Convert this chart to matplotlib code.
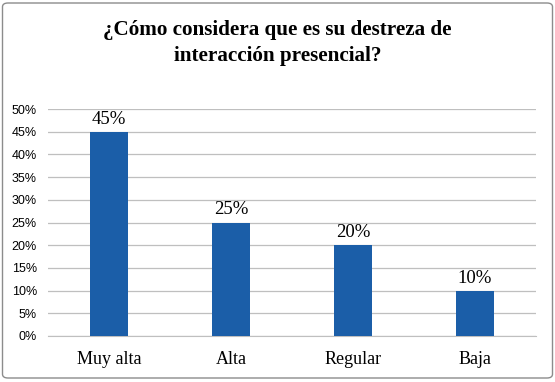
import matplotlib.pyplot as plt
from matplotlib.patches import FancyBboxPatch
from matplotlib.ticker import PercentFormatter

categories = ['Muy alta', 'Alta', 'Regular', 'Baja']
values = [45, 25, 20, 10]
yticks = [0, 5, 10, 15, 20, 25, 30, 35, 40, 45, 50]

serif = 'Liberation Serif'
sans = 'Liberation Sans'
bar_color = '#1B5EA8'

fig = plt.figure(figsize=(5.55, 3.82), dpi=100)
ax = fig.add_axes([48 / 555, 46 / 382, 488 / 555, 227 / 382])

x = range(len(categories))
bars = ax.bar(x, values, width=0.31, color=bar_color, zorder=3)

for b, v in zip(bars, values):
    ax.text(b.get_x() + b.get_width() / 2, v + 0.9, f'{v}%', ha='center', va='bottom',
            fontsize=13.5, family=serif)

ax.set_xlim(-0.5, len(categories) - 0.5)
ax.set_ylim(0, 50)
ax.set_yticks(yticks)
ax.yaxis.set_major_formatter(PercentFormatter(decimals=0))
ax.set_xticks(list(x))
ax.set_xticklabels(categories, family=serif, fontsize=13)
for lbl in ax.get_yticklabels():
    lbl.set_family(sans)
    lbl.set_fontsize(9)

ax.grid(axis='y', color='#BFBFBF', linewidth=0.9, zorder=0)
for s in ['top', 'right', 'left']:
    ax.spines[s].set_visible(False)
ax.spines['bottom'].set_color('#BFBFBF')
ax.tick_params(axis='both', length=0)
ax.tick_params(axis='y', pad=8)
ax.tick_params(axis='x', pad=11)

fig.text(0.5, 1 - 30 / 382, '¿Cómo considera que es su destreza de', ha='center', va='center',
         fontsize=15.2, fontweight='bold', family=serif)
fig.text(0.5, 1 - 56 / 382, 'interacción presencial?', ha='center', va='center',
         fontsize=15.2, fontweight='bold', family=serif)

border = FancyBboxPatch((2.5 / 555, 4 / 382), 550 / 555, 375 / 382,
                        boxstyle='round,pad=0,rounding_size=0.01',
                        transform=fig.transFigure, fill=False,
                        edgecolor='#8C8C8C', linewidth=1)
fig.patches.append(border)

fig.savefig('out.png', dpi=100)
